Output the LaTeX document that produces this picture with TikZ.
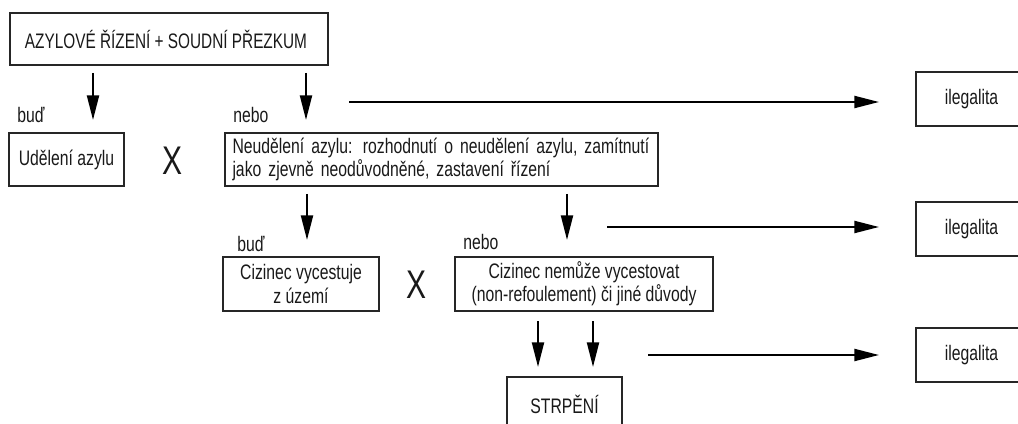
\documentclass[tikz,border=0pt]{standalone}
\usepackage{fontspec}
\setmainfont[FakeStretch=0.75]{Liberation Sans}
\usetikzlibrary{arrows.meta}
\tikzset{
  box/.style={draw=black!85, line width=0.9pt, inner sep=0pt, align=center,
    font=\fontsize{15.75}{17.5}\selectfont, text=black!90},
  lbl/.style={inner sep=0pt, anchor=base west, font=\fontsize{15.75}{17.5}\selectfont, text=black!90},
  bigx/.style={inner sep=0pt, font=\fontsize{30}{32}\selectfont, text=black!90},
  arr/.style={line width=1.6pt, -{Triangle[length=18.5pt,width=9pt]}}
}
\begin{document}
\begin{tikzpicture}[x=0.75pt,y=-0.75pt]
\useasboundingbox (0,0) rectangle (1018,424);
% boxes
\node[box, minimum width=238.5pt, minimum height=39pt] (top) at (169,39) {\scalebox{0.975}[1]{AZYLOVÉ ŘÍZENÍ + SOUDNÍ PŘEZKUM}\hspace*{4.5pt}};
\node[box, minimum width=86.25pt, minimum height=39.75pt] (udel) at (66.5,159.5) {Udělení azylu};
\node[box, minimum width=324.75pt, minimum height=39.75pt, text width=313.5pt, align=left] (neud) at (441.5,159.5)
  {Neudělení azylu: rozhodnutí o neudělení azylu, zamítnutí\\jako zjevně neodůvodněné, zastavení řízení};
\node[box, minimum width=117pt, minimum height=40.5pt] (vyc) at (301,284) {Cizinec vycestuje\\z území};
\node[box, minimum width=193.5pt, minimum height=40.5pt] (nem) at (584,284) {Cizinec nemůže vycestovat\\(non-refoulement) či jiné důvody};
\node[box, minimum width=86.25pt, minimum height=40.5pt] (strp) at (564.5,404) {STRPĚNÍ};
\node[box, minimum width=83.25pt, minimum height=40.5pt] (il1) at (971.5,99) {ilegalita};
\node[box, minimum width=83.25pt, minimum height=40.5pt] (il2) at (971.5,229) {ilegalita};
\node[box, minimum width=83.25pt, minimum height=40.5pt] (il3) at (971.5,355) {ilegalita};
% labels
\node[lbl] (bud1) at (17,123) {buď};
\node[lbl] (nebo1) at (233,123) {nebo};
\node[lbl] (bud2) at (237,252) {buď};
\node[lbl] (nebo2) at (463,250) {nebo};
\node[bigx] (x1) at (173,161) {X};
\node[bigx] (x2) at (417,285) {X};
% arrow end points
\coordinate (a1s) at (93,73);  \coordinate (a1e) at (93,120);
\coordinate (a2s) at (306,73); \coordinate (a2e) at (306,120);
\coordinate (a3s) at (307,194); \coordinate (a3e) at (307,240);
\coordinate (a4s) at (567,194); \coordinate (a4e) at (567,240);
\coordinate (a5s) at (538,321); \coordinate (a5e) at (538,367);
\coordinate (a6s) at (593,321); \coordinate (a6e) at (593,367);
\coordinate (h1s) at (349,102); \coordinate (h1e) at (879,102);
\coordinate (h2s) at (607,227); \coordinate (h2e) at (879,227);
\coordinate (h3s) at (648,355); \coordinate (h3e) at (879,355);
\draw[arr] (a1s) -- (a1e);
\draw[arr] (a2s) -- (a2e);
\draw[arr] (a3s) -- (a3e);
\draw[arr] (a4s) -- (a4e);
\draw[arr] (a5s) -- (a5e);
\draw[arr] (a6s) -- (a6e);
\draw[arr] (h1s) -- (h1e);
\draw[arr] (h2s) -- (h2e);
\draw[arr] (h3s) -- (h3e);
\end{tikzpicture}
\end{document}
